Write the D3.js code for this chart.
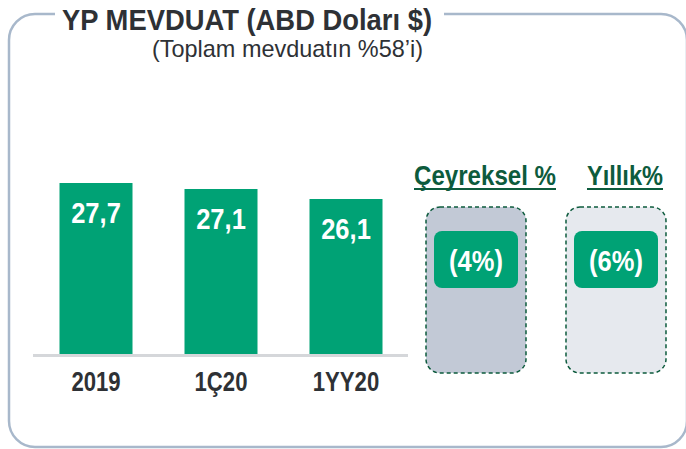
<!DOCTYPE html>
<html><head><meta charset="utf-8">
<script src="https://cdn.jsdelivr.net/npm/d3@7"></script>
<style>
html,body{margin:0;padding:0;background:#fff;}
svg text{font-family:"Liberation Sans",Arial,sans-serif;}
</style></head>
<body><svg id="c" width="686" height="449"></svg>
<script>
const title = "YP MEVDUAT (ABD Doları $)";
const subtitle = "(Toplam mevduatın %58’i)";
const categories = ["2019", "1Ç20", "1YY20"];
const values = [27.7, 27.1, 26.1];
const changeHeaders = ["Çeyreksel %", "Yıllık%"];
const changeLabels = ["(4%)", "(6%)"];

const green = "#00a275";
const darkGreen = "#0d5b3d";
const textDark = "#2e3135";
const svg = d3.select("#c");

// condensed text helper
function ctext(sel, x, y, sx, size, weight, fill, txt, anchor) {
  const g = sel.append("g").attr("transform", `translate(${x},${y}) scale(${sx},1)`);
  return g.append("text").attr("text-anchor", anchor || "middle").attr("font-size", size)
    .attr("font-weight", weight).attr("fill", fill).text(txt);
}

// frame
svg.append("rect").attr("x", 9).attr("y", 14).attr("width", 678).attr("height", 433)
  .attr("rx", 26).attr("fill", "none").attr("stroke", "#a8b8cb").attr("stroke-width", 2.5);
svg.append("rect").attr("x", 55).attr("y", 5).attr("width", 389).attr("height", 18).attr("fill", "#fff");

svg.append("text").attr("x", 62).attr("y", 30).attr("font-size", 30).attr("font-weight", "bold")
  .attr("fill", textDark).attr("textLength", 370).attr("lengthAdjust", "spacingAndGlyphs").text(title);
svg.append("text").attr("x", 152).attr("y", 57).attr("font-size", 24)
  .attr("fill", textDark).attr("textLength", 271).attr("lengthAdjust", "spacingAndGlyphs").text(subtitle);

const fmt = d3.formatLocale({decimal: ",", thousands: ".", grouping: [3], currency: ["", ""]}).format(".1f");

const x = d3.scaleBand().domain(categories).range([33.5, 408.5]).paddingInner(0.416).paddingOuter(0.208);
const y = d3.scaleLinear().domain([10.6, 27.7]).range([354, 183]);

svg.append("g").selectAll("rect").data(values).join("rect")
  .attr("x", (d, i) => x(categories[i])).attr("width", x.bandwidth())
  .attr("y", d => y(d)).attr("height", d => y(10.6) - y(d)).attr("fill", green);

const vl = svg.append("g");
values.forEach((d, i) => {
  ctext(vl, x(categories[i]) + x.bandwidth() / 2, y(d) + 40, 0.85, 30, "bold", "#fff", fmt(d));
});

// axis
const axis = svg.append("g").attr("transform", "translate(0,355.5)")
  .call(d3.axisBottom(x).tickSize(0).tickPadding(0));
axis.select(".domain").attr("stroke", "#d5d7da").attr("stroke-width", 3).attr("d", "M33,0H408");
axis.selectAll(".tick text").attr("y", 36).attr("dy", 0).attr("font-size", 27).attr("font-weight", "bold")
  .attr("fill", textDark).attr("font-family", null).attr("transform", "scale(0.82,1)");

// change panels
const px = d3.scaleBand().domain(changeHeaders).range([406, 686]).paddingInner(0.2857).paddingOuter(0.1429);
const boxFills = ["#c2c9d6", "#e6e9ee"];
const headerW = [142, 76];
changeHeaders.forEach((h, i) => {
  const bx = px(h), bw = px.bandwidth(), cx = bx + bw / 2;
  const hx = cx + 9;
  svg.append("text").attr("x", hx).attr("y", 185).attr("text-anchor", "middle")
    .attr("font-size", 28).attr("font-weight", "bold").attr("fill", darkGreen)
    .attr("textLength", headerW[i]).attr("lengthAdjust", "spacingAndGlyphs").text(h);
  svg.append("line").attr("x1", hx - headerW[i] / 2).attr("x2", hx + headerW[i] / 2).attr("y1", 189).attr("y2", 189)
    .attr("stroke", darkGreen).attr("stroke-width", 2);
  svg.append("rect").attr("x", bx).attr("y", 207).attr("width", bw).attr("height", 166).attr("rx", 14)
    .attr("fill", boxFills[i]).attr("stroke", darkGreen).attr("stroke-width", 1.5).attr("stroke-dasharray", "4,3");
  svg.append("rect").attr("x", bx + 8).attr("y", 231).attr("width", bw - 16).attr("height", 57).attr("rx", 8)
    .attr("fill", green);
  ctext(svg, cx, 271, 0.85, 30, "bold", "#fff", changeLabels[i]);
});
</script></body></html>
